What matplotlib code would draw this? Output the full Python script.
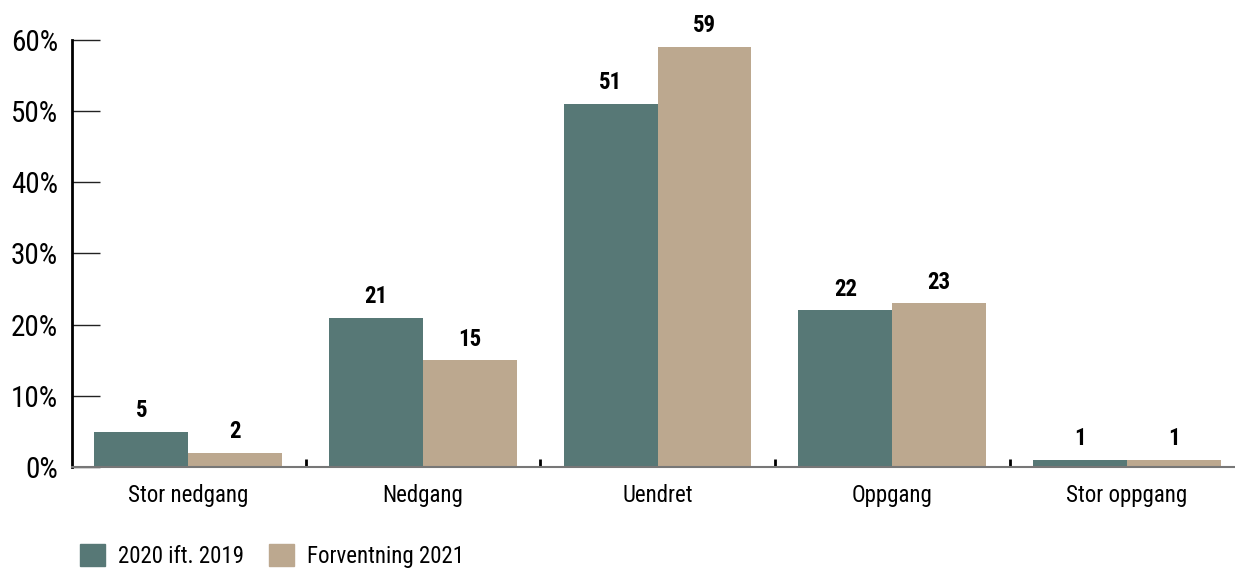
import numpy as np
import matplotlib
matplotlib.use("Agg")
import matplotlib.pyplot as plt
from matplotlib.patches import Patch

plt.rcParams['font.family'] = ['Roboto Condensed', 'DejaVu Sans']
plt.rcParams['font.stretch'] = 'condensed'

categories = ["Stor nedgang", "Nedgang", "Uendret", "Oppgang", "Stor oppgang"]
serie_2020 = [5, 21, 51, 22, 1]
serie_2021 = [2, 15, 59, 23, 1]
serie_navn = ["2020 ift. 2019", "Forventning 2021"]
y_ticks = [0, 10, 20, 30, 40, 50, 60]

teal = "#577876"
tan = "#bca88f"

fig = plt.figure(figsize=(12.35, 5.69), dpi=100)
ax = fig.add_axes([0.0583, 0.179, 0.9417, 0.751])

x = np.arange(len(categories))
w = 0.4
b1 = ax.bar(x - w / 2, serie_2020, w, color=teal)
b2 = ax.bar(x + w / 2, serie_2021, w, color=tan)

# verdier over hver søyle
for bars, vals in ((b1, serie_2020), (b2, serie_2021)):
    for rect, v in zip(bars, vals):
        ax.annotate(str(v), (rect.get_x() + rect.get_width() / 2, v),
                    xytext=(0, 7), textcoords="offset points",
                    ha="center", va="bottom", fontsize=16.5, fontweight="bold")

ax.set_xlim(-0.495, 4.46)
ax.set_ylim(0, 60)
ax.set_yticks(y_ticks)
ax.set_yticklabels([f"{t}%" for t in y_ticks], fontsize=21)
ax.tick_params(axis="y", direction="in", length=20, width=1, color="#222222", pad=10)

ax.set_xticks(x)
ax.set_xticklabels(categories, fontsize=16.5)
ax.tick_params(axis="x", which="major", length=0, pad=12)
ax.set_xticks(x[:-1] + 0.5, minor=True)
ax.tick_params(axis="x", which="minor", direction="in", length=6, width=2, color="black")

for s in ("top", "right"):
    ax.spines[s].set_visible(False)
ax.spines["left"].set_linewidth(2)
ax.spines["left"].set_color("black")
ax.spines["bottom"].set_linewidth(1.5)
ax.spines["bottom"].set_color("#777777")

handles = [Patch(color=teal), Patch(color=tan)]
fig.legend(handles, serie_navn, loc="lower left", bbox_to_anchor=(0.048, -0.035),
           ncol=2, frameon=False, fontsize=16.5, handlelength=1.1, handleheight=1.1,
           columnspacing=1.1, handletextpad=0.55)

fig.savefig("out.png", dpi=100)
